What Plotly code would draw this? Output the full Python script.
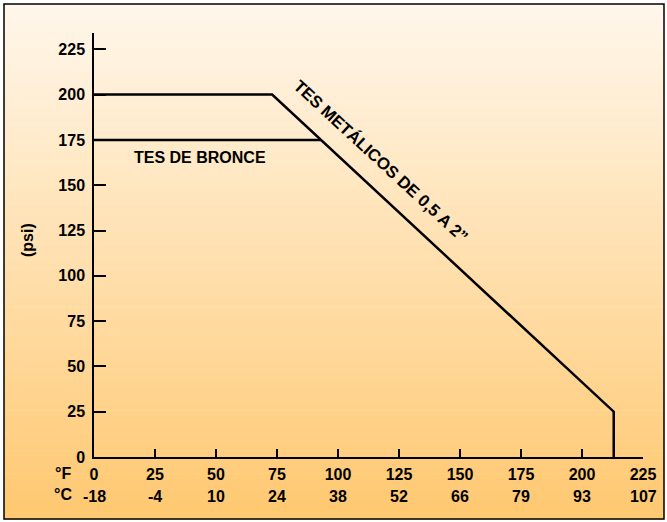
import plotly.graph_objects as go

# ---- data ----
metal_temp_f = [0, 73, 213, 213]
metal_psi = [200, 200, 25, 0]
bronze_temp_f = [0, 93]
bronze_psi = [175, 175]
x_ticks_f = [0, 25, 50, 75, 100, 125, 150, 175, 200, 225]
x_ticks_c = ["-18", "-4", "10", "24", "38", "52", "66", "79", "93", "107"]
y_ticks = [0, 25, 50, 75, 100, 125, 150, 175, 200, 225]

W, H = 667, 522
L, R, T, B = 94, 24, 33, 65
PW, PH = W - L - R, H - T - B


def px_x(px):
    return (px - L) / PW


def px_y(py):
    return (H - B - py) / PH


FONT = "Liberation Sans, Arial, sans-serif"
FS = 16
fig = go.Figure()
fig.add_trace(go.Scatter(x=metal_temp_f, y=metal_psi, mode="lines",
                         line=dict(color="black", width=2.5), showlegend=False,
                         cliponaxis=False, hoverinfo="skip"))
fig.add_trace(go.Scatter(x=bronze_temp_f, y=bronze_psi, mode="lines",
                         line=dict(color="black", width=2.5), showlegend=False,
                         cliponaxis=False, hoverinfo="skip"))

# gradient background bands
shapes = []
top_c = (255, 247, 236)
bot_c = (255, 200, 112)
y0, y1 = 4, 519
n = 90
for i in range(n):
    a = y0 + (y1 - y0) * i / n
    b = y0 + (y1 - y0) * (i + 1) / n
    t = (i + 0.5) / n
    c = tuple(round(top_c[k] + (bot_c[k] - top_c[k]) * t) for k in range(3))
    shapes.append(dict(type="rect", xref="paper", yref="paper",
                       x0=px_x(4), x1=px_x(664), y0=px_y(b + 0.5), y1=px_y(a),
                       fillcolor="rgb(%d,%d,%d)" % c, line=dict(width=0),
                       layer="below"))
shapes.append(dict(type="rect", xref="paper", yref="paper",
                   x0=px_x(4), x1=px_x(664), y0=px_y(519), y1=px_y(4),
                   fillcolor="rgba(0,0,0,0)", line=dict(color="black", width=1.5),
                   layer="above"))

bold = dict(family=FONT, size=FS, color="black", weight="bold")
annotations = []
for xv, lab in zip(x_ticks_f, x_ticks_c):
    annotations.append(dict(x=xv, y=px_y(496), xref="x", yref="paper", text=lab,
                            showarrow=False, font=bold,
                            xanchor="center", yanchor="middle"))
annotations += [
    dict(x=px_x(63), y=px_y(474), xref="paper", yref="paper", text="°F", showarrow=False,
         font=bold, xanchor="center", yanchor="middle"),
    dict(x=px_x(63), y=px_y(494), xref="paper", yref="paper", text="°C", showarrow=False,
         font=bold, xanchor="center", yanchor="middle"),
    dict(x=px_x(27), y=px_y(240), xref="paper", yref="paper", text="(psi)", showarrow=False,
         textangle=-90, font=bold, xanchor="center", yanchor="middle"),
    dict(x=px_x(200), y=px_y(157), xref="paper", yref="paper", text="TES DE BRONCE",
         showarrow=False, font=bold, xanchor="center", yanchor="middle"),
    dict(x=px_x(381), y=px_y(161), xref="paper", yref="paper",
         text="TES METÁLICOS DE 0,5 A 2”", showarrow=False, textangle=42.7,
         font=dict(family=FONT, size=16.8, color="black", weight="bold"),
         xanchor="center", yanchor="middle"),
]

fig.update_layout(
    width=W, height=H,
    margin=dict(l=L, r=R, t=T, b=B, pad=0),
    paper_bgcolor="white",
    plot_bgcolor="rgba(0,0,0,0)",
    shapes=shapes,
    annotations=annotations,
    font=bold,
    xaxis=dict(range=[0, 225], tickvals=x_ticks_f, ticktext=[str(v) for v in x_ticks_f],
               ticks="inside", ticklen=8, tickwidth=1.5, tickcolor="black",
               showline=True, linecolor="black", linewidth=1.5, showgrid=False,
               zeroline=False, tickfont=bold, ticklabelstandoff=2),
    yaxis=dict(range=[0, 234], tickvals=y_ticks, ticks="inside", ticklen=12,
               tickwidth=1.5, tickcolor="black", showline=True, linecolor="black",
               linewidth=1.5, showgrid=False, zeroline=False,
               tickfont=bold, ticklabelstandoff=4),
)

fig.write_html("out.html", config={"displayModeBar": False},
               post_script="document.body.style.margin='0';document.body.style.overflow='hidden';")
